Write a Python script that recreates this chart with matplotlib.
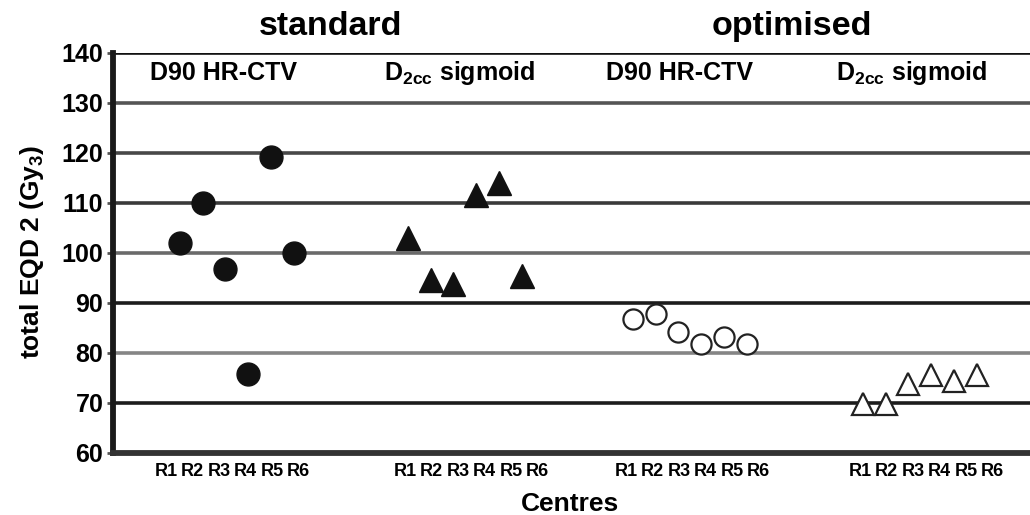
import numpy as np
import matplotlib
matplotlib.use('Agg')
import matplotlib.pyplot as plt

plt.rcParams['font.family'] = ['Liberation Sans', 'DejaVu Sans']
plt.rcParams['font.weight'] = 'bold'
plt.rcParams['mathtext.fontset'] = 'custom'
plt.rcParams['mathtext.rm'] = 'Liberation Sans:bold'
plt.rcParams['mathtext.bf'] = 'Liberation Sans:bold'

# ── data: total EQD2 per centre ───────────────────────────────────────────────

centres = ['R1', 'R2', 'R3', 'R4', 'R5', 'R6']

std_d90 = [102.1, 110.0, 96.9, 75.9, 119.2, 100.1]
std_d2cc = [103.0, 94.6, 93.9, 111.7, 114.1, 95.5]
opt_d90 = [86.9, 87.9, 84.3, 81.9, 83.3, 81.9]
opt_d2cc = [69.8, 69.8, 73.8, 75.6, 74.4, 75.6]

y_ticks = [60, 70, 80, 90, 100, 110, 120, 130, 140]

# ── layout (x in pixel-like units along the axis) ─────────────────────────────

point_start = [67, 295, 520, 750]
point_step = 22.7
label_start = [53, 292, 513, 747]
label_step = 26.5

grid_colors = {70: '#1c1c1c', 80: '#858585', 90: '#1c1c1c', 100: '#6a6a6a',
               110: '#3a3a3a', 120: '#484848', 130: '#555555', 140: '#111111'}

fig = plt.figure(figsize=(10.3, 5.15), dpi=100)
ax = fig.add_axes([113 / 1030, 62 / 515, 917 / 1030, 400 / 515])

ax.set_xlim(0, 917)
ax.set_ylim(60, 140)

for v, c in grid_colors.items():
    ax.axhline(v, color=c, lw=2.6, zorder=1)

idx = np.arange(len(centres))

ax.plot(point_start[0] + idx * point_step, std_d90, 'o', ms=16.5,
        color='#111111', zorder=3, clip_on=False)
ax.plot(point_start[1] + idx * point_step, std_d2cc, '^', ms=17,
        color='#111111', zorder=3, clip_on=False)
ax.plot(point_start[2] + idx * point_step, opt_d90, 'o', ms=14.5,
        mfc='white', mec='#222222', mew=1.6, zorder=3, clip_on=False)
ax.plot(point_start[3] + idx * point_step, opt_d2cc, '^', ms=16,
        mfc='white', mec='#222222', mew=1.6, zorder=3, clip_on=False)

# ── axes styling ──────────────────────────────────────────────────────────────

for s in ['top', 'right']:
    ax.spines[s].set_visible(False)
ax.spines['left'].set_linewidth(4.2)
ax.spines['left'].set_color('#1a1a1a')
ax.spines['bottom'].set_linewidth(4.2)
ax.spines['bottom'].set_color('#333333')

ax.set_yticks(y_ticks)
ax.set_yticklabels([str(v) for v in y_ticks], fontsize=18, fontweight='bold')
ax.tick_params(axis='y', length=4, width=2, color='#555555', pad=3)

xt = np.concatenate([s + idx * label_step for s in label_start])
ax.set_xticks(xt)
ax.set_xticklabels(centres * 4, fontsize=13, fontweight='bold',
                   family=['Liberation Sans Narrow', 'Liberation Sans'])
ax.tick_params(axis='x', length=0, pad=7)

# ── group titles and subtitles ────────────────────────────────────────────────

ax.text(218, 143.6, 'standard', fontsize=24.5, fontweight='bold',
        ha='center', va='baseline', clip_on=False)
ax.text(679, 143.6, 'optimised', fontsize=24.5, fontweight='bold',
        ha='center', va='baseline', clip_on=False)

sub_x = [111, 347, 567, 799]
sub_labels = ['D90 HR-CTV', r'D$_{\mathbf{2cc}}$ sigmoid',
              'D90 HR-CTV', r'D$_{\mathbf{2cc}}$ sigmoid']
for x, t in zip(sub_x, sub_labels):
    ax.text(x, 136.0, t, fontsize=18, fontweight='bold',
            ha='center', va='center')

fig.text(32 / 1030, (515 - 252) / 515, r'total EQD 2 (Gy$_{\mathbf{3}}$)',
         rotation=90, fontsize=19, fontweight='bold', ha='center', va='center')
fig.text(570 / 1030, (515 - 504) / 515, 'Centres', fontsize=19,
         fontweight='bold', ha='center', va='center')

fig.savefig('out.png', dpi=100)
